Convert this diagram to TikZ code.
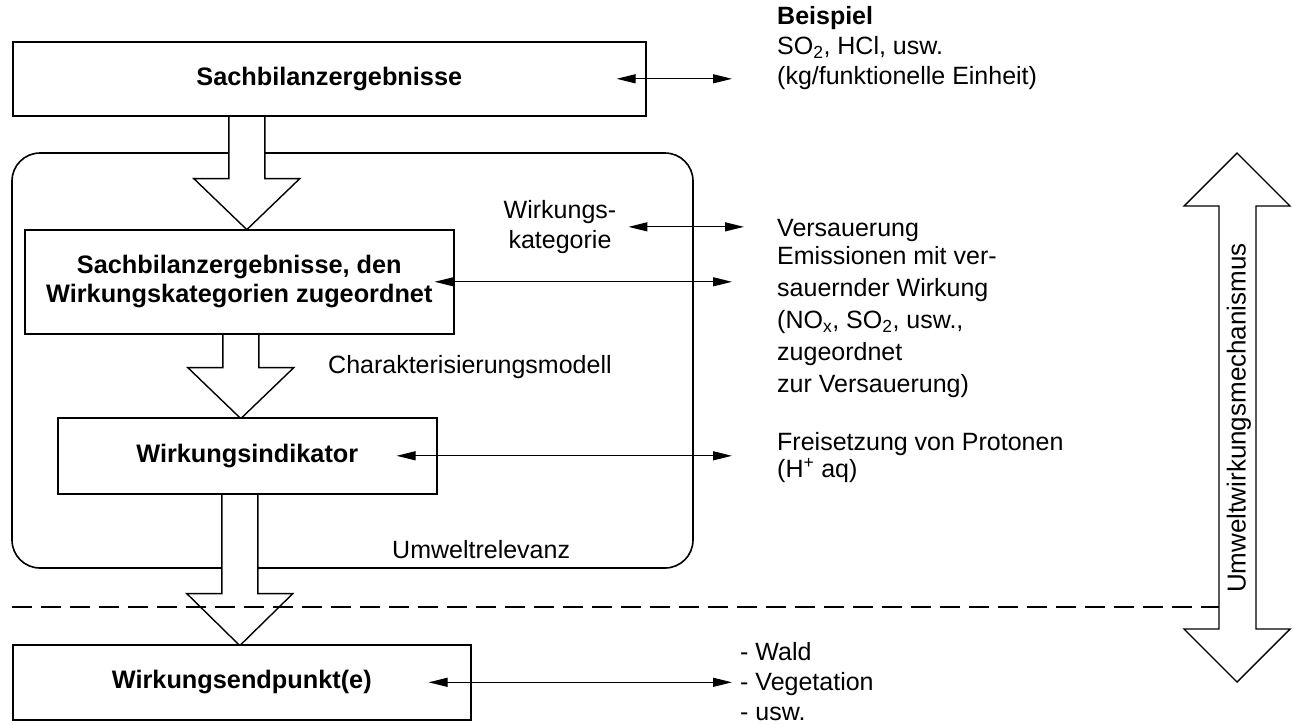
\documentclass[tikz,border=0pt]{standalone}
\usepackage{fontspec}
\setmainfont{Liberation Sans}
\usetikzlibrary{arrows.meta,positioning,backgrounds}

\begin{document}
\begin{tikzpicture}[
    x=1pt, y=-1pt,
    box/.style={draw, line width=1.6pt, fill=white, align=center,
                font=\bfseries\fontsize{25.3}{29}\selectfont,
                inner sep=0pt, anchor=north west},
    txt/.style={font=\fontsize{25}{30}\selectfont, align=left,
                inner sep=0pt, anchor=north west},
    link/.style={{Triangle[length=19pt,width=9pt]}-{Triangle[length=19pt,width=9pt]},
                 line width=1.2pt},
    bigarrow/.style={draw, line width=1.4pt, fill=white, line join=miter}
]
\useasboundingbox (0,0) rectangle (1293,724);

% boxes of the left column
\node[box, minimum width=633pt, minimum height=74pt] (sach) at (12,41) {Sachbilanzergebnisse};
\node[box, minimum width=429pt, minimum height=104pt] (zuord) at (24,229)
    {Sachbilanzergebnisse, den\\Wirkungskategorien zugeordnet};
\node[box, minimum width=379pt, minimum height=76pt] (indik) at (57,417) {Wirkungsindikator};
\node[box, minimum width=458pt, minimum height=75pt] (endp) at (12,644) {Wirkungsendpunkt(e)};

\begin{scope}[on background layer]
\draw[line width=1.6pt, rounded corners=28pt] (12,153) rectangle (693,568);
\draw[bigarrow] ([xshift=-100.5pt]sach.south) -- ++(0,62) -- ++(-35,0)
    -- ++(53,51) -- ++(53,-51) -- ++(-35,0) -- ++(0,-62);
\draw[bigarrow] ([xshift=-16.5pt]zuord.south) -- ++(0,33) -- ++(-35,0)
    -- ++(53,51) -- ++(53,-51) -- ++(-35,0) -- ++(0,-33);
\draw[bigarrow] ([xshift=-25.5pt]indik.south) -- ++(0,99) -- ++(-35,0)
    -- ++(53,52) -- ++(53,-52) -- ++(-35,0) -- ++(0,-99);
\end{scope}

% labels inside the frame
\node[txt, align=center, anchor=north] (kat) at (560,200) {Wirkungs-\\kategorie};
\node[txt, anchor=base west] (modell) at (328,373) {Charakterisierungsmodell};
\node[txt, anchor=base west] (relevanz) at (392,558) {Umweltrelevanz};

% examples on the right
\node[txt] (beisp) at (777,6) {\textbf{Beispiel}\\SO\textsubscript{2}, HCl, usw.\\(kg/funktionelle Einheit)};
\node[txt] (vers) at (777,219) {Versauerung};
\node[txt, font=\fontsize{25}{32}\selectfont] (emiss) at (777,246)
    {Emissionen mit ver-\\sauernder Wirkung\\(NO\textsubscript{x}, SO\textsubscript{2}, usw.,\\zugeordnet\\zur Versauerung)};
\node[txt, font=\fontsize{25}{27}\selectfont] (proton) at (777,432)
    {Freisetzung von Protonen\\(H\textsuperscript{+} aq)};
\node[txt] (wald) at (740,642) {- Wald\\- Vegetation\\- usw.};

% environmental mechanism
\coordinate (rx) at (732,0);
\coordinate (dl) at (12,607);
\coordinate (dr) at (1219,607);
\draw[line width=1.3pt, dash pattern=on 20pt off 9pt] (dl) -- (dr);
\draw[bigarrow] (1237,153) -- (1290,206) -- (1256,206) -- (1256,629) -- (1290,629)
    -- (1237,682) -- (1184,629) -- (1219,629) -- (1219,206) -- (1184,206) -- cycle;
\node[font=\fontsize{26}{30}\selectfont, rotate=90, inner sep=0pt] (mech) at (1239,418) {Umweltwirkungsmechanismus};

% connections to the examples
\draw[link] ([xshift=-30pt]sach.east) -- (sach.east -| rx);
\draw[link] ([xshift=12pt]kat.east) -- ([xshift=12pt]kat.east -| rx);
\draw[link] ([xshift=-20pt]zuord.east) -- (zuord.east -| rx);
\draw[link] ([xshift=-41pt]indik.east) -- (indik.east -| rx);
\draw[link] ([xshift=-43pt]endp.east) -- (endp.east -| rx);
\end{tikzpicture}
\end{document}
